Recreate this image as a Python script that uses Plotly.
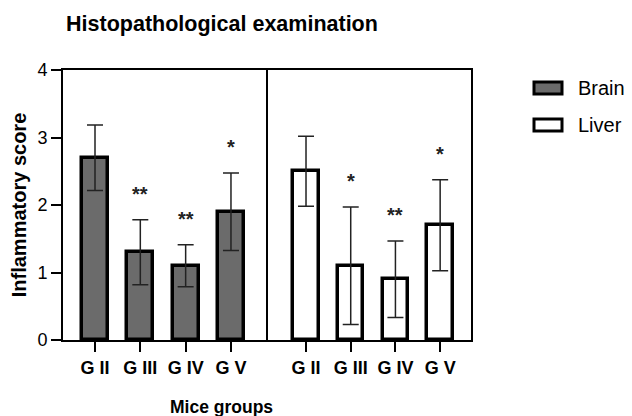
import plotly.graph_objects as go
from plotly.subplots import make_subplots

groups = ["G II", "G III", "G IV", "G V"]
brain = [2.7, 1.3, 1.1, 1.9]
brain_err = [0.485, 0.48, 0.31, 0.575]
liver = [2.5, 1.1, 0.9, 1.7]
liver_err = [0.52, 0.87, 0.565, 0.675]
brain_sig = ["", "**", "**", "*"]
liver_sig = ["", "*", "**", "*"]
y_ticks = [0, 1, 2, 3, 4]

W, H = 632, 416
L, R, T, B = 63, 161, 70, 76
pw, ph = W - L - R, H - T - B
split = (268 - L) / pw

ARIAL = "Arial, Liberation Sans, sans-serif"
GREY = "#6b6b6b"

fig = make_subplots(rows=1, cols=2, shared_yaxes=False, horizontal_spacing=0)

fig.add_trace(go.Bar(
    x=groups, y=brain, name="Brain", width=0.57,
    marker=dict(color=GREY, line=dict(color="black", width=3.5)),
    error_y=dict(type="data", array=brain_err, color="#222222", thickness=1.5, width=8),
    showlegend=False), row=1, col=1)
fig.add_trace(go.Bar(
    x=groups, y=liver, name="Liver", width=0.57,
    marker=dict(color="white", line=dict(color="black", width=3.5)),
    error_y=dict(type="data", array=liver_err, color="#222222", thickness=1.5, width=8),
    showlegend=False), row=1, col=2)

axis_common = dict(showline=True, linecolor="black", linewidth=2,
                   showgrid=False, zeroline=False, ticklen=10,
                   tickwidth=2, tickcolor="black")

fig.update_layout(
    width=W, height=H, margin=dict(l=L, r=R, t=T, b=B),
    plot_bgcolor="white", paper_bgcolor="white", bargap=0,
    title=dict(text="<b>Histopathological examination</b>", x=222 / W, xanchor="center",
               y=1 - 23 / H, yanchor="middle", font=dict(family=ARIAL, size=21.5, color="black")),
    xaxis=dict(domain=[0, split], range=[-0.706, 3.817], ticks="outside", mirror=True,
               tickprefix="<b>", ticksuffix="</b>",
               tickfont=dict(family=ARIAL, size=18, color="black"), **axis_common),
    xaxis2=dict(domain=[split, 1], range=[-0.85, 3.69], ticks="outside", mirror=True,
                tickprefix="<b>", ticksuffix="</b>",
                tickfont=dict(family=ARIAL, size=18, color="black"), **axis_common),
    yaxis=dict(range=[0, 4], tickvals=y_ticks, ticks="outside", mirror=False,
               tickprefix="<b>", ticksuffix="</b>",
               tickfont=dict(family=ARIAL, size=18, color="black"),
               title=dict(text="<b>Inflammatory score</b>", standoff=5,
                          font=dict(family=ARIAL, size=20, color="black")),
               **axis_common),
    yaxis2=dict(range=[0, 4], tickvals=y_ticks, showticklabels=False, ticks="",
                mirror=True, **axis_common),
)

# significance stars
for xa, ya, vals, errs, sig in (("x", "y", brain, brain_err, brain_sig),
                                ("x2", "y2", liver, liver_err, liver_sig)):
    for g, v, e, s in zip(groups, vals, errs, sig):
        if s:
            fig.add_annotation(x=g, y=v + e, xref=xa, yref=ya, text="<b>" + s + "</b>",
                               showarrow=False, yanchor="bottom", yshift=13,
                               font=dict(family=ARIAL, size=20, color="#222222"))

# x axis title
fig.add_annotation(text="<b>Mice groups</b>", xref="paper", yref="paper",
                   x=(221 - L) / pw, y=(H - B - 407) / ph, xanchor="center", yanchor="middle",
                   showarrow=False, font=dict(family=ARIAL, size=17.5, color="black"))

# legend (drawn manually)
for name, fill, cy in (("Brain", GREY, 88), ("Liver", "white", 125)):
    fig.add_shape(type="rect", xref="paper", yref="paper",
                  x0=(534 - L) / pw, x1=(562 - L) / pw,
                  y0=(H - B - (cy + 6)) / ph, y1=(H - B - (cy - 6)) / ph,
                  fillcolor=fill, line=dict(color="black", width=3))
    fig.add_annotation(text=name, xref="paper", yref="paper",
                       x=(576 - L) / pw, y=(H - B - cy) / ph, xanchor="left", yanchor="middle",
                       showarrow=False, font=dict(family=ARIAL, size=20, color="black"))

fig.write_html("out.html", config={"displayModeBar": False},
               post_script="document.body.style.margin='0';")
